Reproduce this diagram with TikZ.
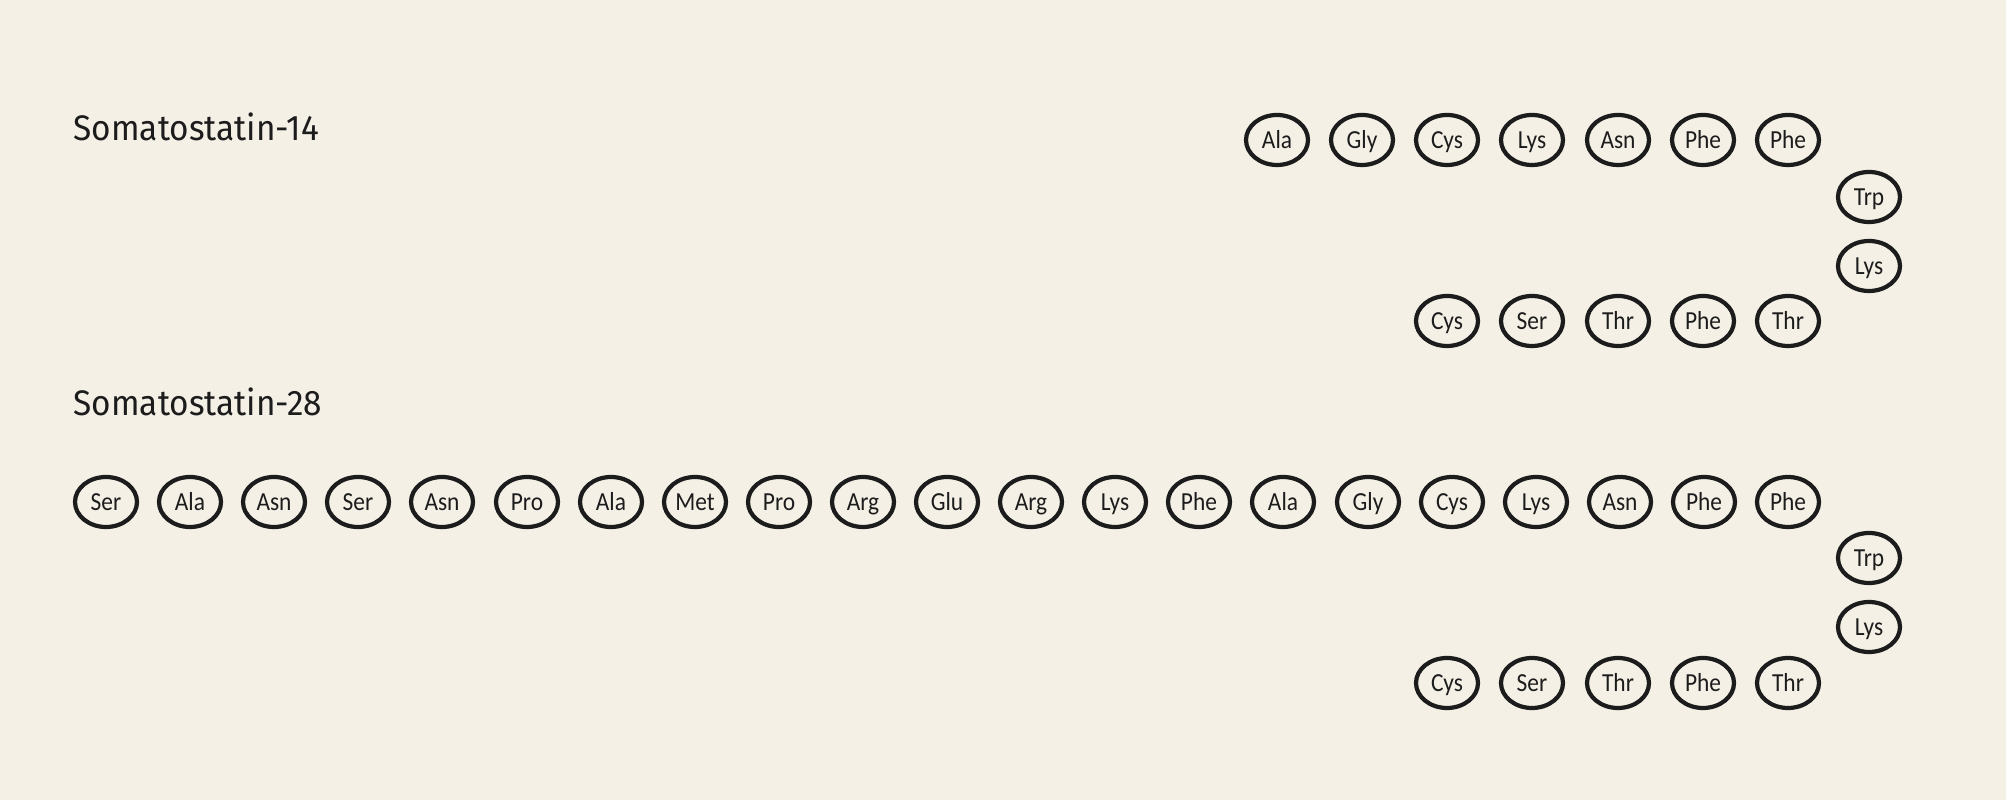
\documentclass[tikz,border=0pt]{standalone}
\usepackage{fontspec}
\setmainfont{Carlito}
\newfontfamily\labelfont[FakeStretch=0.94]{Fira Sans}
\newfontfamily\resfont[FakeStretch=0.9]{Carlito}
\usetikzlibrary{shapes.geometric}
\definecolor{paper}{HTML}{F4F0E6}
\definecolor{ink}{HTML}{1C1C1C}
\tikzset{
    res/.style={draw=ink, text=ink, shape=ellipse, line width=1.2pt, inner sep=0pt,
        minimum width=0.62cm, minimum height=0.50cm, text height=4.7pt, text depth=0pt,
        font=\resfont\fontsize{7.4}{8}\selectfont},
    title/.style={anchor=base west, text=ink, inner sep=0pt, font=\labelfont\fontsize{10.1}{12}\selectfont}
}
\begin{document}
\begin{tikzpicture}
    \fill[paper] (0, 0) rectangle (20.06, 8);
    \useasboundingbox (0, 0) rectangle (20.06, 8);

    % somatostatin-14
    \node (T14) at (0.73, 6.59) [title] {Somatostatin-14};

    \node (a1) at (12.77, 6.60) [res] {Ala};
    \node (a2) at (13.62, 6.60) [res] {Gly};
    \node (a3) at (14.47, 6.60) [res] {Cys};
    \node (a4) at (15.32, 6.60) [res] {Lys};
    \node (a5) at (16.18, 6.60) [res] {Asn};
    \node (a6) at (17.03, 6.60) [res] {Phe};
    \node (a7) at (17.88, 6.60) [res] {Phe};

    \node (a8) at (18.69, 6.03) [res] {Trp};
    \node (a9) at (18.69, 5.34) [res] {Lys};

    \node (a10) at (17.88, 4.79) [res] {Thr};
    \node (a11) at (17.03, 4.79) [res] {Phe};
    \node (a12) at (16.18, 4.79) [res] {Thr};
    \node (a13) at (15.32, 4.79) [res] {Ser};
    \node (a14) at (14.47, 4.79) [res] {Cys};

    % somatostatin-28
    \node (T28) at (0.73, 3.84) [title] {Somatostatin-28};

    \node (b1) at (1.06, 2.98) [res] {Ser};
    \node (b2) at (1.90, 2.98) [res] {Ala};
    \node (b3) at (2.74, 2.98) [res] {Asn};
    \node (b4) at (3.58, 2.98) [res] {Ser};
    \node (b5) at (4.42, 2.98) [res] {Asn};
    \node (b6) at (5.27, 2.98) [res] {Pro};
    \node (b7) at (6.11, 2.98) [res] {Ala};
    \node (b8) at (6.95, 2.98) [res] {Met};
    \node (b9) at (7.79, 2.98) [res] {Pro};
    \node (b10) at (8.63, 2.98) [res] {Arg};
    \node (b11) at (9.47, 2.98) [res] {Glu};
    \node (b12) at (10.31, 2.98) [res] {Arg};
    \node (b13) at (11.15, 2.98) [res] {Lys};
    \node (b14) at (11.99, 2.98) [res] {Phe};
    \node (b15) at (12.83, 2.98) [res] {Ala};
    \node (b16) at (13.68, 2.98) [res] {Gly};
    \node (b17) at (14.52, 2.98) [res] {Cys};
    \node (b18) at (15.36, 2.98) [res] {Lys};
    \node (b19) at (16.20, 2.98) [res] {Asn};
    \node (b20) at (17.04, 2.98) [res] {Phe};
    \node (b21) at (17.88, 2.98) [res] {Phe};

    \node (b22) at (18.69, 2.42) [res] {Trp};
    \node (b23) at (18.69, 1.73) [res] {Lys};

    \node (b24) at (17.88, 1.17) [res] {Thr};
    \node (b25) at (17.03, 1.17) [res] {Phe};
    \node (b26) at (16.18, 1.17) [res] {Thr};
    \node (b27) at (15.32, 1.17) [res] {Ser};
    \node (b28) at (14.47, 1.17) [res] {Cys};
\end{tikzpicture}
\end{document}
